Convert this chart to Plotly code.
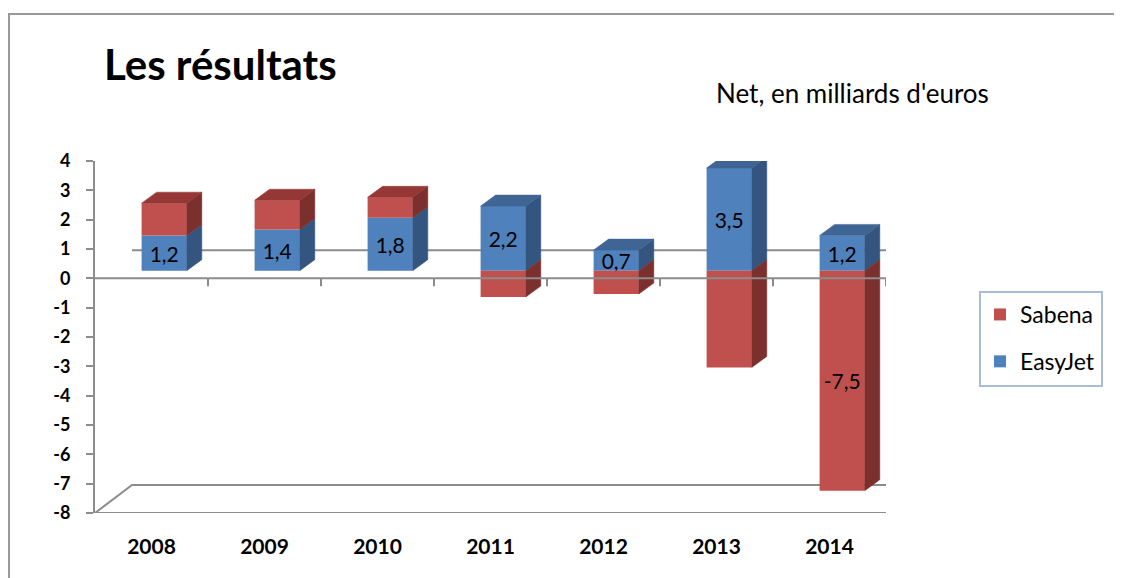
import plotly.graph_objects as go

# ---------------- data ----------------
years = ["2008", "2009", "2010", "2011", "2012", "2013", "2014"]
easyjet = [1.2, 1.4, 1.8, 2.2, 0.7, 3.5, 1.2]
sabena = [1.1, 1.0, 0.7, -0.9, -0.8, -3.3, -7.5]
easyjet_labels = ["1,2", "1,4", "1,8", "2,2", "0,7", "3,5", "1,2"]
sabena_labels = ["", "", "", "", "", "", "-7,5"]
y_ticks = [4, 3, 2, 1, 0, -1, -2, -3, -4, -5, -6, -7, -8]
y_tick_text = ["4", "3", "2", "1", "0", "-1", "-2", "-3", "-4", "-5", "-6", "-7", "-8"]

# ---------------- styling / geometry ----------------
OFF = 8  # page body margin of the browser
W, H = 1122 - OFF, 578 - OFF
PLOT_L, PLOT_R, PLOT_T, PLOT_B = 95, 886, 161, 513   # page pixels of the plot area
ML, MR = PLOT_L - OFF, W - (PLOT_R - OFF)
MT, MB = PLOT_T - OFF, H - (PLOT_B - OFF)
PW, PH = W - ML - MR, H - MT - MB
N = len(years)
X_RANGE = [-0.5, N - 0.5]
Y_RANGE = [-8, 4]
UX = PW / (X_RANGE[1] - X_RANGE[0])   # px per category unit
UY = PH / (Y_RANGE[1] - Y_RANGE[0])   # px per value unit

def dxu(px):
    return px / UX

def dyu(px):
    return px / UY

def xp(px):  # page pixel -> paper x
    return (px - PLOT_L) / PW

def yp(py):  # page pixel -> paper y
    return (PLOT_B - py) / PH

FONT = "Lato"
GREY = "#8c8c8c"
BLUE = dict(front="#4F81BD", top="#3E6594", side="#34557F")
RED = dict(front="#C0504D", top="#943735", side="#7B302E")

bar_shift_x, bar_shift_y = dxu(12.7), dyu(7.7)
depth_x, depth_y = dxu(15), dyu(11)
floor_dx, floor_dy = dxu(37), dyu(28)
BAR_W = 0.4

fig = go.Figure()

# ---- floor and back wall line (behind bars) ----
fx = [X_RANGE[0], X_RANGE[1], X_RANGE[1] + floor_dx, X_RANGE[0] + floor_dx, X_RANGE[0]]
fy = [Y_RANGE[0], Y_RANGE[0], Y_RANGE[0] + floor_dy, Y_RANGE[0] + floor_dy, Y_RANGE[0]]
fig.add_trace(go.Scatter(x=fx, y=fy, mode="lines", line=dict(color=GREY, width=2),
                         showlegend=False, hoverinfo="skip", xaxis="x", yaxis="y"))
fig.add_trace(go.Scatter(x=[X_RANGE[0] + floor_dx, X_RANGE[1] + floor_dx],
                         y=[floor_dy, floor_dy], mode="lines",
                         line=dict(color=GREY, width=2),
                         showlegend=False, hoverinfo="skip", xaxis="x", yaxis="y"))

# ---- bars (front faces) ----
fig.add_trace(go.Bar(x=list(range(N)), y=easyjet, name="EasyJet", width=BAR_W,
                     marker=dict(color=BLUE["front"], line=dict(width=0)),
                     text=easyjet_labels, textposition="inside", insidetextanchor="middle",
                     constraintext="none", textangle=0,
                     textfont=dict(family=FONT, size=21, color="black"),
                     legendgroup="e", legendrank=2, xaxis="x2", yaxis="y2"))
fig.add_trace(go.Bar(x=list(range(N)), y=sabena, name="Sabena", width=BAR_W,
                     marker=dict(color=RED["front"], line=dict(width=0)),
                     text=sabena_labels, textposition="inside", insidetextanchor="middle",
                     constraintext="none", textangle=0,
                     textfont=dict(family=FONT, size=21, color="black"),
                     legendgroup="s", legendrank=1, xaxis="x2", yaxis="y2"))

# ---- 3D side and top faces computed from the stacked values ----
for i in range(N):
    pos, neg = 0.0, 0.0
    segs = []
    for vals, col in ((easyjet, BLUE), (sabena, RED)):
        v = vals[i]
        if v >= 0:
            segs.append((pos, pos + v, col))
            pos += v
        else:
            segs.append((neg + v, neg, col))
            neg += v
    xl, xr = i - BAR_W / 2, i + BAR_W / 2
    for lo, hi, col in segs:
        fig.add_trace(go.Scatter(
            x=[xr, xr + depth_x, xr + depth_x, xr, xr],
            y=[lo, lo + depth_y, hi + depth_y, hi, lo],
            mode="lines", fill="toself", fillcolor=col["side"],
            line=dict(color=col["side"], width=0.5),
            showlegend=False, hoverinfo="skip", xaxis="x2", yaxis="y2"))
    top_seg = max(segs, key=lambda s: s[1])
    top = top_seg[1]
    fig.add_trace(go.Scatter(
        x=[xl, xl + depth_x, xr + depth_x, xr, xl],
        y=[top, top + depth_y, top + depth_y, top, top],
        mode="lines", fill="toself", fillcolor=top_seg[2]["top"],
        line=dict(color=top_seg[2]["top"], width=0.5),
        showlegend=False, hoverinfo="skip", xaxis="x2", yaxis="y2"))

# ---- front zero line with category boundary ticks (in front of bars) ----
shapes = [dict(type="line", xref="x", yref="y", x0=X_RANGE[0], x1=X_RANGE[1], y0=0, y1=0,
               line=dict(color=GREY, width=2), layer="above")]
for k in range(N):
    b = k + 0.5
    shapes.append(dict(type="line", xref="x", yref="y", x0=b, x1=b, y0=0, y1=-dyu(8),
                       line=dict(color=GREY, width=2), layer="above"))
# chart frame
shapes.append(dict(type="rect", xref="paper", yref="paper", x0=xp(9), x1=xp(1116),
                   y0=yp(14), y1=yp(600), line=dict(color="#999999", width=2),
                   fillcolor="rgba(0,0,0,0)", layer="below"))
# legend box
shapes.append(dict(type="rect", xref="paper", yref="paper", x0=xp(980), x1=xp(1102),
                   y0=yp(292), y1=yp(386), line=dict(color="#A9BDD8", width=2),
                   fillcolor="white", layer="below"))

annotations = [
    dict(text="Les résultats", xref="paper", yref="paper", x=xp(102), y=yp(64),
         xanchor="left", yanchor="middle", showarrow=False,
         font=dict(family=FONT, size=42, color="black", weight="bold")),
    dict(text="Net, en milliards d'euros", xref="paper", yref="paper", x=xp(714), y=yp(93),
         xanchor="left", yanchor="middle", showarrow=False,
         font=dict(family=FONT, size=26, color="black")),
]

fig.update_layout(
    width=W, height=H, autosize=False,
    margin=dict(l=ML, r=MR, t=MT, b=MB),
    paper_bgcolor="white", plot_bgcolor="rgba(0,0,0,0)",
    barmode="relative",
    font=dict(family=FONT, color="black"),
    shapes=shapes, annotations=annotations,
    xaxis=dict(range=X_RANGE, tickvals=list(range(N)), ticktext=years,
               showgrid=False, zeroline=False, showline=False, ticks="",
               ticklabelstandoff=19, fixedrange=True,
               tickfont=dict(family=FONT, size=21, color="black", weight="bold")),
    yaxis=dict(range=Y_RANGE, tickvals=y_ticks, ticktext=y_tick_text,
               showgrid=False, zeroline=False, showline=True, linecolor=GREY, linewidth=2,
               ticks="outside", ticklen=7, tickwidth=2, tickcolor=GREY,
               ticklabelstandoff=12, fixedrange=True,
               tickfont=dict(family=FONT, size=18, color="black", weight="bold")),
    xaxis2=dict(range=[X_RANGE[0] - bar_shift_x, X_RANGE[1] - bar_shift_x],
                overlaying="x", anchor="y2", visible=False, fixedrange=True),
    yaxis2=dict(range=[Y_RANGE[0] - bar_shift_y, Y_RANGE[1] - bar_shift_y],
                overlaying="y", anchor="x2", visible=False, fixedrange=True),
    legend=dict(x=xp(980), y=yp(293), xanchor="left", yanchor="top",
                traceorder="grouped", tracegroupgap=14,
                bgcolor="rgba(0,0,0,0)", borderwidth=0,
                font=dict(family=FONT, size=23, color="black")),
    showlegend=True,
)

fig.write_html("out.html")
